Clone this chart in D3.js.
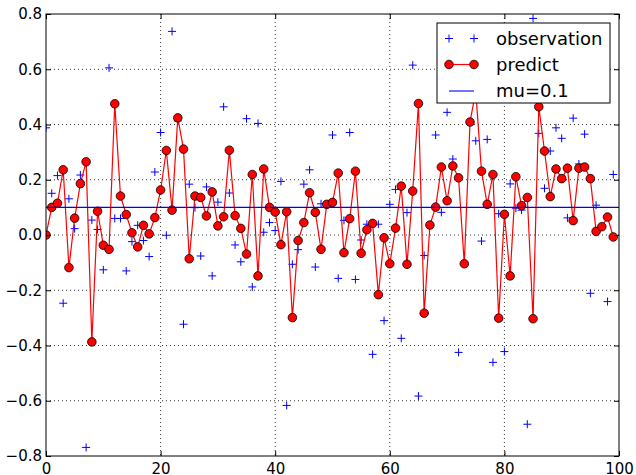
<!DOCTYPE html>
<html>
<head>
<meta charset="utf-8">
<script src="https://cdn.jsdelivr.net/npm/d3@7"></script>
<style>
    body { margin: 0; background: #fff; }
    svg { display: block; font-family: "DejaVu Sans", sans-serif; }
    .tickLabel text { font-size: 15px; fill: #000; font-family: "DejaVu Sans", sans-serif; }
    .legendText { font-size: 18px; fill: #000; }
</style>
</head>
<body>
<div id="chart"></div>
<script>

// observation values, one per step (null = not visible in the plot)
let observation = [
    0.388, 0.151, 0.215, -0.247, 0.131, 0.023, 0.217, -0.769, 0.054, 0.020,
    -0.126, 0.605, 0.060, 0.060, -0.130, -0.024, 0.035, -0.020, -0.078, 0.228,
    0.371, -0.001, 0.737, 0.413, -0.323, 0.184, 0.099, -0.076, 0.174, -0.148,
    0.119, 0.464, 0.152, -0.036, -0.097, 0.421, -0.188, 0.404, 0.010, 0.045,
    0.016, 0.194, -0.617, -0.106, -0.053, 0.184, 0.236, -0.116, 0.113, 0.110,
    0.362, -0.157, 0.053, 0.371, -0.161, -0.018, 0.039, -0.432, 0.039, -0.310,
    0.111, 0.165, -0.374, 0.081, 0.615, -0.583, -0.074, null, 0.362, 0.082,
    0.444, 0.275, -0.425, null, null, 0.341, -0.022, 0.346, -0.461, 0.077,
    -0.422, 0.185, 0.097, 0.090, -0.685, 0.784, 0.368, 0.169, 0.304, 0.388,
    0.350, 0.062, 0.423, 0.257, 0.365, -0.211, 0.108, null, -0.241, 0.219
];

// predicted values
let predict = [
    0.000, 0.100, 0.115, 0.236, -0.118, 0.061, 0.186, 0.265, -0.387, 0.086,
    -0.037, -0.052, 0.475, 0.141, 0.074, 0.008, -0.043, 0.035, 0.004, 0.063,
    0.163, 0.306, 0.090, 0.424, 0.311, -0.086, 0.141, 0.136, 0.069, 0.156,
    0.033, 0.066, 0.307, 0.070, 0.024, -0.069, 0.219, -0.148, 0.239, 0.100,
    0.083, -0.035, 0.084, -0.299, -0.020, 0.045, 0.153, 0.082, -0.052, 0.111,
    0.118, 0.224, -0.064, 0.059, 0.231, -0.066, 0.019, 0.042, -0.216, -0.010,
    -0.104, 0.025, 0.177, -0.106, 0.159, 0.476, -0.283, 0.036, 0.101, 0.246,
    0.124, 0.250, 0.207, -0.104, 0.409, 0.520, 0.231, 0.111, 0.219, -0.301,
    0.075, -0.148, 0.211, 0.106, 0.136, -0.303, 0.464, 0.304, 0.139, 0.239,
    0.204, 0.242, 0.052, 0.242, 0.246, 0.204, 0.013, 0.030, 0.065, -0.007
];

let mu = 0.1;

let xTicks = [0, 20, 40, 60, 80, 100];
let yTicks = [-0.8, -0.6, -0.4, -0.2, 0.0, 0.2, 0.4, 0.6, 0.8];

let legendLabels = ["observation", "predict", "mu=0.1"];


class KalmanPlot {

    constructor(parentElement, height, width) {
        this.parentElement = parentElement;
        this.baseHeight = height;
        this.baseWidth = width;

        this.initVis();
    }

    initVis() {
        let vis = this;

        vis.margin = {top: 14, right: 17, bottom: 19, left: 46};

        vis.width = vis.baseWidth - vis.margin.left - vis.margin.right;
        vis.height = vis.baseHeight - vis.margin.top - vis.margin.bottom;

        vis.svgRoot = d3.select("#" + vis.parentElement).append("svg")
            .attr("width", vis.baseWidth)
            .attr("height", vis.baseHeight);

        vis.svgRoot.append("defs").append("clipPath")
            .attr("id", "plotClip")
            .append("rect")
            .attr("width", vis.width)
            .attr("height", vis.height);

        vis.svg = vis.svgRoot.append("g")
            .attr("transform", "translate(" + vis.margin.left + "," + vis.margin.top + ")");

        vis.x = d3.scaleLinear()
            .domain([0, 100])
            .range([0, vis.width]);

        vis.y = d3.scaleLinear()
            .domain([-0.8, 0.8])
            .range([vis.height, 0]);

        vis.wrangleData();
    }

    wrangleData() {
        let vis = this;

        vis.obsData = observation
            .map((v, i) => ({x: i, y: v}))
            .filter(d => d.y !== null);

        vis.predData = predict.map((v, i) => ({x: i, y: v}));

        vis.updateVis();
    }

    updateVis() {
        let vis = this;

        // dotted grid
        vis.svg.append("g").selectAll("line.gx")
            .data(xTicks.slice(1, -1))
            .enter().append("line")
            .attr("x1", d => vis.x(d)).attr("x2", d => vis.x(d))
            .attr("y1", 0).attr("y2", vis.height)
            .attr("stroke", "#000").attr("stroke-width", 0.8)
            .attr("stroke-dasharray", "1,3");

        vis.svg.append("g").selectAll("line.gy")
            .data(yTicks.slice(1, -1))
            .enter().append("line")
            .attr("x1", 0).attr("x2", vis.width)
            .attr("y1", d => vis.y(d)).attr("y2", d => vis.y(d))
            .attr("stroke", "#000").attr("stroke-width", 0.8)
            .attr("stroke-dasharray", "1,3");

        let plot = vis.svg.append("g").attr("clip-path", "url(#plotClip)");

        // observations as "+"
        let s = 4;
        plot.selectAll("path.obs")
            .data(vis.obsData)
            .enter().append("path")
            .attr("d", d => {
                let cx = vis.x(d.x), cy = vis.y(d.y);
                return "M" + (cx - s) + "," + cy + "H" + (cx + s) + "M" + cx + "," + (cy - s) + "V" + (cy + s);
            })
            .attr("stroke", "#0000ff")
            .attr("stroke-width", 1)
            .attr("fill", "none");

        // predict line + markers
        let line = d3.line()
            .x(d => vis.x(d.x))
            .y(d => vis.y(d.y));

        plot.append("path")
            .datum(vis.predData)
            .attr("d", line)
            .attr("fill", "none")
            .attr("stroke", "#ff0000")
            .attr("stroke-width", 1.2);

        plot.selectAll("circle.pred")
            .data(vis.predData)
            .enter().append("circle")
            .attr("cx", d => vis.x(d.x))
            .attr("cy", d => vis.y(d.y))
            .attr("r", 4.3)
            .attr("fill", "#ff0000")
            .attr("stroke", "#000")
            .attr("stroke-width", 0.8);

        // mu line
        plot.append("line")
            .attr("x1", 0).attr("x2", vis.width)
            .attr("y1", vis.y(mu)).attr("y2", vis.y(mu))
            .attr("stroke", "#0000ff")
            .attr("stroke-width", 1.1);

        // axes, ticks pointing inwards on all four sides
        let bottom = vis.svg.append("g")
            .attr("class", "tickLabel")
            .attr("transform", "translate(0," + vis.height + ")")
            .call(d3.axisBottom(vis.x).tickValues(xTicks).tickSize(-5).tickPadding(7).tickFormat(d3.format("d")));

        let left = vis.svg.append("g")
            .attr("class", "tickLabel")
            .call(d3.axisLeft(vis.y).tickValues(yTicks).tickSize(-5).tickPadding(4)
                .tickFormat(d => d3.format(".1f")(d).replace("-", "\u2212")));

        vis.svg.append("g")
            .call(d3.axisTop(vis.x).tickValues(xTicks).tickSize(-5).tickFormat(""));

        vis.svg.append("g")
            .attr("transform", "translate(" + vis.width + ",0)")
            .call(d3.axisRight(vis.y).tickValues(yTicks).tickSize(-5).tickFormat(""));

        vis.svg.selectAll(".domain").remove();
        vis.svg.selectAll(".tick line").attr("stroke", "#000");
        bottom.attr("font-family", null).selectAll("text").attr("font-size", 15);
        left.attr("font-family", null).selectAll("text").attr("font-size", 15);

        vis.svg.append("rect")
            .attr("width", vis.width)
            .attr("height", vis.height)
            .attr("fill", "none")
            .attr("stroke", "#000")
            .attr("stroke-width", 1);

        // legend
        let lx = 437 - vis.margin.left;
        let ly = 23 - vis.margin.top;
        let legend = vis.svg.append("g")
            .attr("transform", "translate(" + lx + "," + ly + ")");

        legend.append("rect")
            .attr("width", 173)
            .attr("height", 80)
            .attr("fill", "#fff")
            .attr("stroke", "#000")
            .attr("stroke-width", 1);

        let rowY = [15.5, 41.5, 68];
        let h1 = 12, h2 = 37;

        [h1, h2].forEach(hx => {
            legend.append("path")
                .attr("d", "M" + (hx - s) + "," + rowY[0] + "H" + (hx + s) + "M" + hx + "," + (rowY[0] - s) + "V" + (rowY[0] + s))
                .attr("stroke", "#0000ff")
                .attr("stroke-width", 1);
        });

        legend.append("line")
            .attr("x1", h1).attr("x2", h2)
            .attr("y1", rowY[1]).attr("y2", rowY[1])
            .attr("stroke", "#ff0000").attr("stroke-width", 1.2);

        [h1, h2].forEach(hx => {
            legend.append("circle")
                .attr("cx", hx).attr("cy", rowY[1]).attr("r", 4.3)
                .attr("fill", "#ff0000").attr("stroke", "#000").attr("stroke-width", 0.8);
        });

        legend.append("line")
            .attr("x1", h1).attr("x2", h2)
            .attr("y1", rowY[2]).attr("y2", rowY[2])
            .attr("stroke", "#0000ff").attr("stroke-width", 1.1);

        legend.selectAll("text.legendText")
            .data(legendLabels)
            .enter().append("text")
            .attr("class", "legendText")
            .attr("x", 59)
            .attr("y", (d, i) => rowY[i])
            .attr("dy", "0.35em")
            .text(d => d);
    }
}

new KalmanPlot("chart", 475, 636);

</script>
</body>
</html>
